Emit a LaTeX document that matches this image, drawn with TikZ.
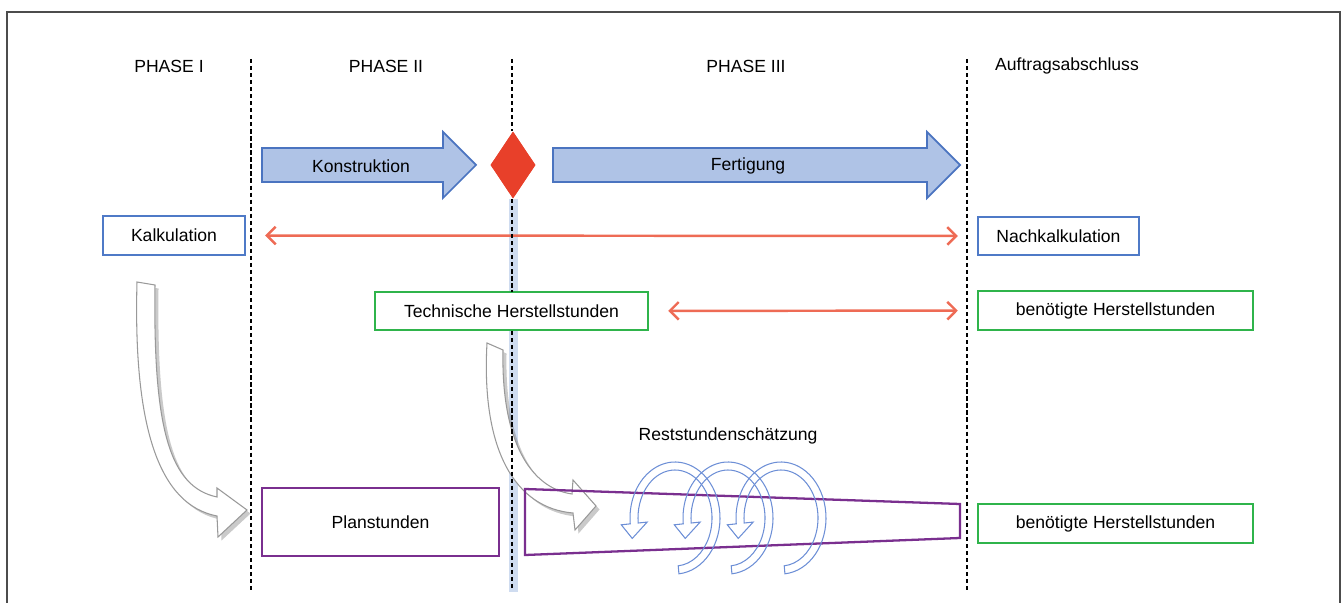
\documentclass[tikz,border=0pt]{standalone}
\usepackage{fontspec}
\setmainfont{Liberation Sans}
\usetikzlibrary{positioning,arrows.meta,calc,shapes.geometric,shadows}
\definecolor{boxblue}{HTML}{4F7AC7}
\definecolor{boxgreen}{HTML}{2FB44B}
\definecolor{boxpurple}{HTML}{7A2F8F}
\definecolor{arrowblue}{HTML}{4B74C0}
\definecolor{arrowfill}{HTML}{AFC3E6}
\definecolor{msred}{HTML}{E8402A}
\definecolor{redline}{HTML}{EE6B55}
\definecolor{bandblue}{HTML}{CFDCF0}
\definecolor{spiralblue}{HTML}{6D8FD6}

\begin{document}
\begin{tikzpicture}[x=0.2mm, y=-0.2mm, font=\fontsize{10}{12}\selectfont,
  >={Straight Barb[length=5pt,width=10pt]},
  box/.style={draw, fill=white, line width=1.3pt, inner sep=0pt},
  calcbox/.style={box, draw=boxblue},
  hoursbox/.style={box, draw=boxgreen},
  planbox/.style={box, draw=boxpurple},
  phasearrow/.style={draw=arrowblue, fill=arrowfill, line width=1pt},
  milestone/.style={diamond, fill=msred, minimum width=9mm, minimum height=13.4mm, inner sep=0pt},
  sepline/.style={line width=1pt, dash pattern=on 2.4pt off 1.6pt},
  band/.style={draw=bandblue, line width=1.8mm},
  redarrow/.style={<->, draw=redline, line width=1.4pt, shorten <=3.8mm, shorten >=3.8mm},
  bigarrow/.style={fill=white, draw=black!40, line width=0.6pt,
    drop shadow={shadow xshift=2pt, shadow yshift=-2pt, opacity=.35, fill=black!60}},
  spiralline/.style={draw=spiralblue, line width=0.6pt},
  spiral/.pic={
    \draw[spiralline] (85:45 and 56) arc[start angle=85, end angle=-186, x radius=45, y radius=56]
      -- (-186:54 and 65) -- ($(-186:41 and 52)+(-2,15)$) -- (-186:28 and 39) -- (-186:37 and 48)
      arc[start angle=-186, end angle=85, x radius=37, y radius=48] -- cycle;
  }]
  \useasboundingbox (0,0) rectangle (1344,603);
  \draw[black!70, line width=1pt] (7,603) -- (7,12) -- (1340,12) -- (1340,603);

  % phase headers
  \node (ph1) at (169,66) {PHASE I};
  \node (ph2) at (386,66) {PHASE II};
  \node (ph3) at (746,66) {PHASE III};
  \node (done) at (1067,66) {Auftragsabschluss};

  % milestone with its band down to the bottom
  \coordinate (bot) at (0,592);
  \node[milestone] (ms) at (513,165) {};
  \draw[band] (ms.south) -- (ms.south |- bot);

  % curved transfer arrows
  \draw[bigarrow] (137,282) .. controls (133,430) and (160,505) .. (217,516) -- (218,537) -- (247,510)
    -- (217,488) -- (217,497) .. controls (170,487) and (153,430) .. (155,285) -- cycle;
  \draw[bigarrow] (487,343) .. controls (481,450) and (515,508) .. (573,513) -- (575,530) -- (596,506)
    -- (573,480) -- (572,494) .. controls (530,488) and (501,440) .. (503,350) -- cycle;

  % boxes
  \node[calcbox, minimum width=28.4mm, minimum height=7.8mm] (kalk) at (174,235.5) {Kalkulation};
  \node[calcbox, minimum width=32.2mm, minimum height=7.6mm] (nachkalk) at (1058.5,236) {Nachkalkulation};
  \node[hoursbox, minimum width=54.6mm, minimum height=7.6mm] (techn) at (511.5,311) {Technische Herstellstunden};
  \node[hoursbox, minimum width=55mm, minimum height=7.8mm] (need1) at (1115.5,310.5) {benötigte Herstellstunden};
  \node[hoursbox, minimum width=55mm, minimum height=7.8mm] (need2) at (1115.5,523.5) {benötigte Herstellstunden};
  \node[planbox, minimum width=47.4mm, minimum height=13.6mm] (plan) at (380.5,522) {Planstunden};

  \draw[redarrow] (kalk) -- (nachkalk);
  \draw[redarrow] (techn) -- (need1);

  % phase separators
  \draw[sepline] (251,59) -- (251,590);
  \draw[sepline] (512,59) -- (512,131);
  \draw[sepline] (512,199) -- (512,292);
  \draw[sepline] (512,331) -- (512,590);
  \draw[sepline] (967,59) -- (967,590);
  \node[milestone] at (ms) {};

  % phase arrows
  \draw[phasearrow] (262,148) -- (443,148) -- (443,132) -- (476,165) -- (443,198) -- (443,182) -- (262,182) -- cycle;
  \node (kon) at (361,166) {Konstruktion};
  \draw[phasearrow] (553,148) -- (927,148) -- (927,132) -- (960,165) -- (927,198) -- (927,182) -- (553,182) -- cycle;
  \node (fert) at (748,166) {Fertigung};

  % shrinking remaining hours
  \draw[boxpurple, line width=1.3pt] (525,489) -- (960,504) -- (960,538) -- (525,555) -- cycle;
  \node (rest) at (728,436) {Reststundenschätzung};
  \pic at (675,518) {spiral};
  \pic at (728,518) {spiral};
  \pic at (781,518) {spiral};
\end{tikzpicture}
\end{document}
